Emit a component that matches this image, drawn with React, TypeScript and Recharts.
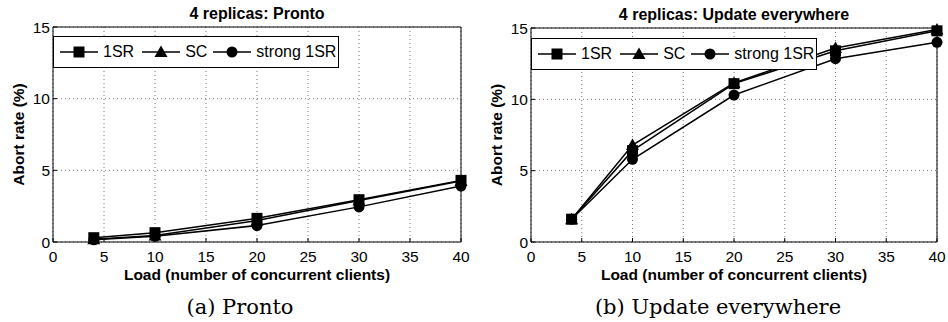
import React from 'react';
import { LineChart, Line, XAxis, YAxis, CartesianGrid, Legend, Label } from 'recharts';

const FONT = '"Liberation Sans", Arial, Helvetica, sans-serif';

// load (number of concurrent clients)
const loads = [4, 10, 20, 30, 40];

// abort rate (%) - Pronto
const pronto1SR = [0.3, 0.65, 1.65, 2.95, 4.3];
const prontoSC = [0.2, 0.45, 1.5, 2.9, 4.25];
const prontoStrong1SR = [0.15, 0.4, 1.15, 2.45, 3.9];

// abort rate (%) - Update everywhere
const ue1SR = [1.6, 6.4, 11.1, 13.4, 14.8];
const ueSC = [1.6, 6.8, 11.15, 13.6, 14.9];
const ueStrong1SR = [1.6, 5.8, 10.3, 12.85, 14.0];

const xTicks = [0, 5, 10, 15, 20, 25, 30, 35, 40];
const yTicks = [0, 5, 10, 15];

const seriesNames = ['1SR', 'SC', 'strong 1SR'];
const markerKinds = ['square', 'triangle', 'circle'];

type MarkerKind = 'square' | 'triangle' | 'circle';

const Marker = ({ cx, cy, kind }: { cx: number; cy: number; kind: MarkerKind }) => {
  if (kind === 'square') return <rect x={cx - 5.5} y={cy - 5.5} width={11} height={11} fill="#000" />;
  if (kind === 'triangle')
    return <polygon points={`${cx},${cy - 6.5} ${cx - 6.5},${cy + 5} ${cx + 6.5},${cy + 5}`} fill="#000" />;
  return <circle cx={cx} cy={cy} r={5.5} fill="#000" />;
};

const dotFor = (kind: MarkerKind) => (props: any) => {
  const { cx, cy, index } = props;
  if (cx == null || cy == null) return <g key={`${kind}-${index}`} />;
  return (
    <g key={`${kind}-${index}`}>
      <Marker cx={cx} cy={cy} kind={kind} />
    </g>
  );
};

const legendGaps = [8, 6, 0];

const LegendBox = () => (
  <div
    style={{
      boxSizing: 'border-box',
      width: '100%',
      height: '100%',
      border: '1.3px solid #000',
      background: '#fff',
      display: 'flex',
      alignItems: 'center',
      paddingLeft: 6,
      fontFamily: FONT,
      fontSize: 16,
      color: '#000',
      whiteSpace: 'nowrap',
    }}
  >
    {seriesNames.map((name, i) => (
      <div key={name} style={{ display: 'flex', alignItems: 'center', marginRight: legendGaps[i], flexShrink: 0 }}>
        <svg width={38} height={14}>
          <line x1={0} y1={7} x2={38} y2={7} stroke="#000" strokeWidth={1.4} />
          <Marker cx={19} cy={7} kind={markerKinds[i] as MarkerKind} />
        </svg>
        <span style={{ marginLeft: 5, lineHeight: '16px' }}>{name}</span>
      </div>
    ))}
  </div>
);

interface PanelProps {
  title: string;
  values: number[][];
  plotLeft: number;
  plotRight: number;
  plotTop: number;
  legendTop: number;
}

const Panel = ({ title, values, plotLeft, plotRight, plotTop, legendTop }: PanelProps) => {
  const data = loads.map((load, i) => ({
    load,
    s0: values[0][i],
    s1: values[1][i],
    s2: values[2][i],
  }));
  const tickStyle = { fontSize: 15.5, fill: '#000', fontFamily: FONT };
  const labelStyle = { fontSize: 15.5, fontWeight: 'bold', fill: '#000', fontFamily: FONT };

  // every axis takes 1px of room outside the plot box
  return (
    <LineChart
      width={474}
      height={322}
      data={data}
      margin={{ top: plotTop - 1, right: 474 - plotRight - 1, bottom: 79, left: plotLeft - 1 }}
    >
      <CartesianGrid stroke="#555" strokeDasharray="1 3" strokeWidth={0.8} />
      <XAxis
        dataKey="load"
        type="number"
        domain={[0, 40]}
        ticks={xTicks}
        height={1}
        tickSize={-4}
        tickMargin={13}
        tick={tickStyle}
        axisLine={{ stroke: '#000', strokeWidth: 1 }}
        tickLine={{ stroke: '#000' }}
      >
        <Label value="Load (number of concurrent clients)" position="bottom" offset={26} style={labelStyle} />
      </XAxis>
      <XAxis
        xAxisId="top"
        orientation="top"
        type="number"
        domain={[0, 40]}
        ticks={xTicks}
        height={1}
        tickSize={-4}
        tick={false}
        axisLine={{ stroke: '#000', strokeWidth: 1 }}
        tickLine={{ stroke: '#000' }}
      >
        <Label value={title} position="top" offset={7} style={{ ...labelStyle, fontSize: 16 }} />
      </XAxis>
      <YAxis
        type="number"
        domain={[0, 15]}
        ticks={yTicks}
        width={1}
        tickSize={-4}
        tickMargin={7}
        tick={tickStyle}
        axisLine={{ stroke: '#000', strokeWidth: 1 }}
        tickLine={{ stroke: '#000' }}
      >
        <Label
          value="Abort rate (%)"
          angle={-90}
          position="left"
          offset={34}
          style={{ ...labelStyle, textAnchor: 'middle' }}
        />
      </YAxis>
      <YAxis
        yAxisId="right"
        orientation="right"
        type="number"
        domain={[0, 15]}
        ticks={yTicks}
        width={1}
        tickSize={-4}
        tick={false}
        axisLine={{ stroke: '#000', strokeWidth: 1 }}
        tickLine={{ stroke: '#000' }}
      />
      {values.map((_, i) => (
        <Line
          key={seriesNames[i]}
          dataKey={`s${i}`}
          name={seriesNames[i]}
          type="linear"
          stroke="#000"
          strokeWidth={1.5}
          dot={dotFor(markerKinds[i] as MarkerKind)}
          activeDot={false}
          isAnimationActive={false}
        />
      ))}
      <Legend
        layout="vertical"
        align="center"
        verticalAlign="middle"
        content={() => <LegendBox />}
        wrapperStyle={{ position: 'absolute', left: plotLeft, top: legendTop, width: 286, height: 32 }}
      />
    </LineChart>
  );
};

const captionStyle: React.CSSProperties = {
  position: 'absolute',
  width: 320,
  top: 295,
  textAlign: 'center',
  fontFamily: '"DejaVu Serif", serif',
  fontSize: 21,
  lineHeight: '24px',
  color: '#000',
};

export default function App() {
  return (
    <div style={{ position: 'absolute', left: 0, top: 0, width: 948, height: 322, background: '#fff' }}>
      <div style={{ position: 'absolute', left: 0, top: 0 }}>
        <Panel
          title="4 replicas: Pronto"
          values={[pronto1SR, prontoSC, prontoStrong1SR]}
          plotLeft={53}
          plotRight={461}
          plotTop={27}
          legendTop={36}
        />
      </div>
      <div style={{ position: 'absolute', left: 474, top: 0 }}>
        <Panel
          title="4 replicas: Update everywhere"
          values={[ue1SR, ueSC, ueStrong1SR]}
          plotLeft={57}
          plotRight={463}
          plotTop={28}
          legendTop={38}
        />
      </div>
      <div style={{ ...captionStyle, left: 240 - 160 }}>(a) Pronto</div>
      <div style={{ ...captionStyle, left: 718 - 160 }}>(b) Update everywhere</div>
    </div>
  );
}
